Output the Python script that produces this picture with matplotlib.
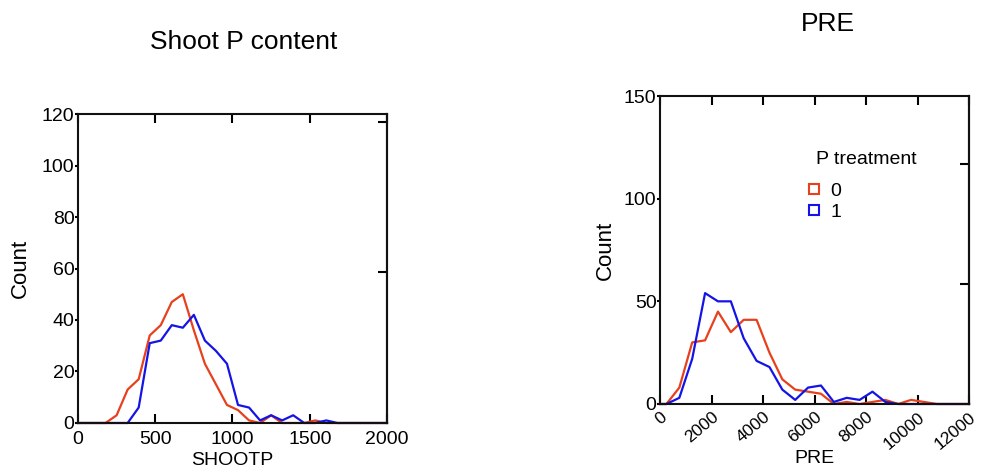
import numpy as np
import matplotlib.pyplot as plt
from matplotlib.lines import Line2D

plt.rcParams['font.family'] = ['Liberation Sans', 'DejaVu Sans']

# Shoot P content: frequency polygon, 28 bins over 0-2000
shoot_edges = np.linspace(0, 2000, 29)
shoot_red = [0, 0, 0, 3, 13, 17, 34, 38, 47, 50, 36, 23, 15, 7,
             5, 1, 0, 3, 0, 0, 0, 1, 0, 0, 0, 0, 0, 0]
shoot_blue = [0, 0, 0, 0, 0, 6, 31, 32, 38, 37, 42, 32, 28, 23,
              7, 6, 1, 3, 1, 3, 0, 0, 1, 0, 0, 0, 0, 0]

# PRE: 24 bins over 0-12000
pre_edges = np.linspace(0, 12000, 25)
pre_red = [0, 8, 30, 31, 45, 35, 41, 41, 25, 12, 7, 6, 5, 0,
           1, 0, 1, 2, 0, 2, 1, 0, 0, 0]
pre_blue = [0, 3, 22, 54, 50, 50, 32, 21, 18, 7, 2, 8, 9, 1,
            3, 2, 6, 1, 0, 0, 0, 0, 0, 0]

groups = ['0', '1']
red = '#e8401c'
blue = '#1414e6'


def centers(edges):
    return (edges[:-1] + edges[1:]) / 2


fig = plt.figure(figsize=(9.81, 4.69), dpi=100)
ax1 = fig.add_axes([0.0795, 0.0981, 0.315, 0.6588])
ax2 = fig.add_axes([0.6728, 0.1386, 0.315, 0.6567])


def style(ax, xmax, xticks, ymax, yticks, right_ticks):
    for s in ax.spines.values():
        s.set_linewidth(1.5)
        s.set_color('#111111')
    ax.set_xlim(0, xmax)
    ax.set_ylim(0, ymax)
    ax.set_xticks(xticks)
    ax.set_yticks(yticks)
    ax.tick_params(axis='x', direction='in', length=6.5, width=1.5,
                   top=True, labelsize=14, pad=5.5)
    ax.tick_params(axis='y', direction='out', length=2.5, width=1.5,
                   labelsize=14, pad=0)
    sec = ax.secondary_yaxis('right')
    sec.set_yticks(right_ticks)
    sec.set_yticklabels([])
    sec.tick_params(direction='in', length=6.5, width=1.5)
    sec.spines['right'].set_linewidth(1.5)


# left panel
x1 = np.concatenate([[0], centers(shoot_edges), [2000]])
ax1.plot(x1, [0] + shoot_red + [0], color=red, lw=1.6, clip_on=False)
ax1.plot(x1, [0] + shoot_blue + [0], color=blue, lw=1.6, clip_on=False)
style(ax1, 2000, [0, 500, 1000, 1500, 2000], 120,
      [0, 20, 40, 60, 80, 100, 120], [58.5, 117])
ax1.set_xlabel('SHOOTP', fontsize=14, labelpad=3)
ax1.set_ylabel('Count', fontsize=16, labelpad=8)
ax1.set_title('Shoot P content', fontsize=19, pad=47, x=0.536)

# right panel
x2 = np.concatenate([[0], centers(pre_edges), [12000]])
ax2.plot(x2, [0] + pre_red + [0], color=red, lw=1.6, clip_on=False)
ax2.plot(x2, [0] + pre_blue + [0], color=blue, lw=1.6, clip_on=False)
style(ax2, 12000, np.arange(0, 12001, 2000), 150, [0, 50, 100, 150],
      [58.5, 117])
ax2.tick_params(axis='x', labelsize=12.5, pad=4)
for lab in ax2.get_xticklabels():
    lab.set_rotation(40)
    lab.set_ha('right')
    lab.set_rotation_mode('anchor')
ax2.set_xlabel('PRE', fontsize=14)
ax2.xaxis.set_label_coords(0.5, -0.15)
ax2.set_ylabel('Count', fontsize=16, labelpad=6)
ax2.set_title('PRE', fontsize=19, pad=47, x=0.545)

# legend: title as plain text, entries as open squares
ax2.text(0.505, 0.795, 'P treatment', fontsize=14, va='center',
         transform=ax2.transAxes)
handles = [Line2D([], [], marker='s', ls='none', mfc='none', mec=c,
                  mew=1.5, markersize=7) for c in (red, blue)]
ax2.legend(handles, groups, loc='upper left', bbox_to_anchor=(0.479, 0.719),
           frameon=False, fontsize=14, borderpad=0, borderaxespad=0,
           handlelength=0.6, handletextpad=0.53, labelspacing=0.15)

fig.savefig('out.png', dpi=100)
